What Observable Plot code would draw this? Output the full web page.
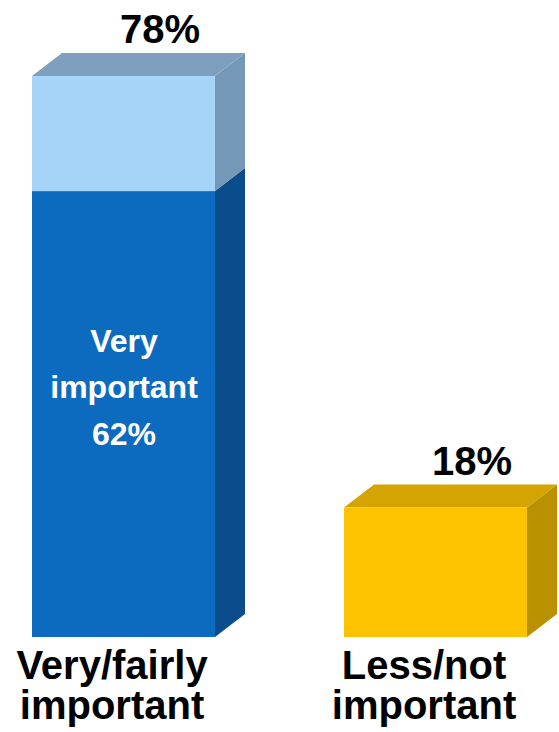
<!DOCTYPE html>
<html>
<head>
<meta charset="utf-8">
<script src="https://cdn.jsdelivr.net/npm/d3@7"></script>
<script src="https://cdn.jsdelivr.net/npm/@observablehq/plot@0.6"></script>
<style>
  html, body { margin: 0; padding: 0; background: #ffffff; }
  #chart svg { display: block; }
</style>
</head>
<body>
<div id="chart"></div>
<script>
// ---- Data ----
const categories = ["Very/fairly\nimportant", "Less/not\nimportant"];
const totals = [78, 18];
const veryImportantShare = 62;
const innerLabel = "Very\nimportant\n62%";

// ---- Styles ----
const palette = {
  very:   { front: "#0c6bbf", side: "#0a4c8c", top: "#1a5f9e" },
  fairly: { front: "#a6d4f9", side: "#7597b8", top: "#7e9fbd" },
  less:   { front: "#fdc300", side: "#b99100", top: "#d4a500" }
};
const DEPTH_X = 30, DEPTH_Y = 23;

// segments built from the arrays above
const segments = [
  { cat: categories[0], y1: 0, y2: veryImportantShare, key: "very", isTop: false },
  { cat: categories[0], y1: veryImportantShare, y2: totals[0], key: "fairly", isTop: true },
  { cat: categories[1], y1: 0, y2: totals[1], key: "less", isTop: true }
];
const totalRows = categories.map((c, i) => ({ cat: c, total: totals[i], label: totals[i] + "%" }));

// 3D side + top faces drawn through Plot's scales
function depthFaces(index, scales) {
  const g = d3.create("svg:g");
  const bw = typeof scales.x.bandwidth === "function" ? scales.x.bandwidth() : 184;
  for (const s of segments) {
    const x0 = scales.x(s.cat), x1 = x0 + bw;
    const yT = scales.y(s.y2), yB = scales.y(s.y1);
    const c = palette[s.key];
    g.append("polygon")
      .attr("points", [[x1, yB], [x1 + DEPTH_X, yB - DEPTH_Y], [x1 + DEPTH_X, yT - DEPTH_Y], [x1, yT]].join(" "))
      .attr("fill", c.side);
    if (s.isTop) {
      g.append("polygon")
        .attr("points", [[x0, yT], [x0 + DEPTH_X, yT - DEPTH_Y], [x1 + DEPTH_X, yT - DEPTH_Y], [x1, yT]].join(" "))
        .attr("fill", c.top);
    }
  }
  return g.node();
}

const font = "'Liberation Sans', Arial, Helvetica, sans-serif";

const chart = Plot.plot({
  width: 559,
  height: 732,
  marginLeft: 32,
  marginRight: 31,
  marginTop: 76,
  marginBottom: 95,
  style: { fontFamily: font, background: "#ffffff", overflow: "visible" },
  x: { domain: categories, paddingInner: 0.412, paddingOuter: 0, axis: null },
  y: { domain: [0, 78], axis: null },
  color: { type: "identity" },
  marks: [
    depthFaces,
    Plot.barY(segments, {
      x: "cat", y1: "y1", y2: "y2",
      fill: d => palette[d.key].front
    }),
    Plot.text(totalRows, {
      x: "cat", y: "total", text: "label",
      dx: 36, dy: -46, fontSize: 40, fontWeight: "bold", fill: "#000", lineAnchor: "middle"
    }),
    Plot.text([categories[0]], {
      x: d => d, y: () => veryImportantShare / 2, text: () => innerLabel,
      dy: -31, fontSize: 32, fontWeight: "bold", fill: "#ffffff", lineHeight: 1.45, lineAnchor: "middle"
    }),
    Plot.text(categories, {
      x: d => d, y: () => 0, text: d => d,
      dx: -12, dy: 13, fontSize: 40, fontWeight: "bold", fill: "#000", lineHeight: 1.0, lineAnchor: "top"
    })
  ]
});
document.getElementById("chart").append(chart);
</script>
</body>
</html>
